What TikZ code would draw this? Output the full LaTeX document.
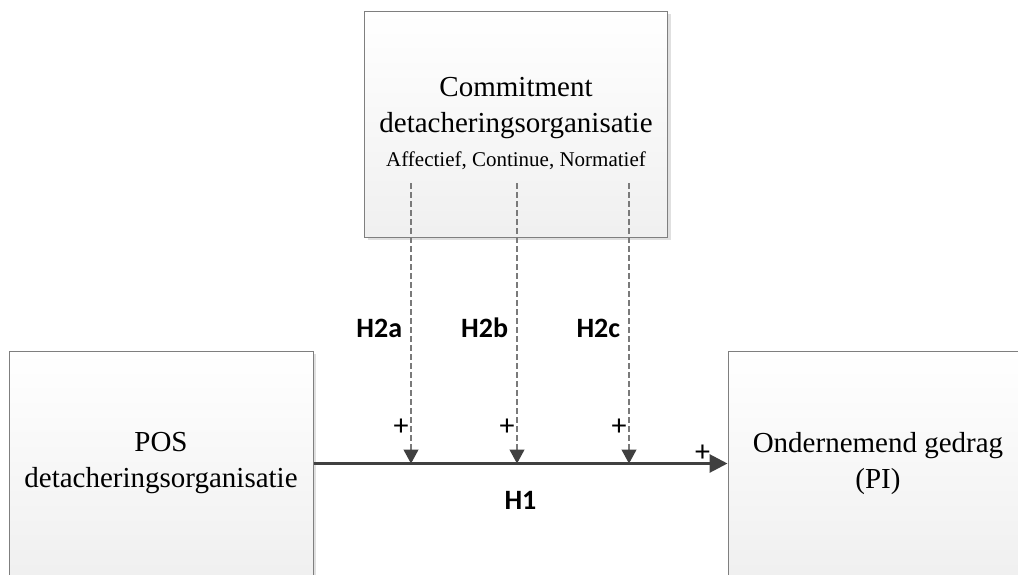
\documentclass[tikz,border=0pt]{standalone}
\usepackage{fontspec}
\setmainfont{Liberation Serif}
\newfontfamily\labelfont{Carlito}
\usetikzlibrary{arrows.meta,shadows}

\definecolor{lineclr}{HTML}{404040}
\definecolor{boxclr}{HTML}{7F7F7F}
\definecolor{dashclr}{HTML}{7A7A7A}

\begin{document}
\begin{tikzpicture}[x=1pt, y=-1pt,
  box/.style = {draw=boxclr, line width=1pt, rectangle, top color=white, bottom color=black!6,
    drop shadow={shadow xshift=3pt, shadow yshift=-3pt, fill=black!12, opacity=1},
    align=center, font=\fontsize{29}{36}\selectfont, inner sep=0pt},
  hlab/.style = {text=black, font=\labelfont\bfseries\fontsize{28}{30}\selectfont, text height=19pt, text depth=1pt},
  plus/.style = {text=black, font=\labelfont\fontsize{30}{30}\selectfont, inner sep=1pt},
  mod/.style = {dash pattern=on 6pt off 3pt, dashclr, line width=1.1pt, -{Triangle[length=14pt, width=15pt, color=lineclr]}},
  main/.style = {lineclr, line width=3pt, -{Triangle[length=18pt, width=18pt]}}]
\clip (0,0) rectangle (1018,574);

\node[box, minimum width=303, minimum height=226] (com) at (516,124)
  {Commitment\\detacheringsorganisatie\\[-2pt]{\fontsize{21}{24}\selectfont Affectief, Continue, Normatief}};
\node[box, minimum width=304, minimum height=225] (pos) at (161,463.5) {POS\\detacheringsorganisatie};
\node[box, minimum width=300, minimum height=225] (ond) at (878,463.5) {Ondernemend gedrag\\(PI)};

% moderators
\coordinate (a1) at (411,183); \coordinate (a2) at (411,463.5);
\coordinate (b1) at (517,183); \coordinate (b2) at (517,463.5);
\coordinate (c1) at (629,183); \coordinate (c2) at (629,463.5);

\draw[main] (pos.east) -- node[pos=0.94, above=0pt, plus]{+} node[midway, below=22pt, hlab]{H1} (ond.west);
\draw[mod] (a1) -- node[pos=0.52, left=5pt, hlab]{H2a} node[pos=0.87, left=1pt, plus]{+} (a2);
\draw[mod] (b1) -- node[pos=0.52, left=5pt, hlab]{H2b} node[pos=0.87, left=1pt, plus]{+} (b2);
\draw[mod] (c1) -- node[pos=0.52, left=5pt, hlab]{H2c} node[pos=0.87, left=1pt, plus]{+} (c2);
\end{tikzpicture}
\end{document}
